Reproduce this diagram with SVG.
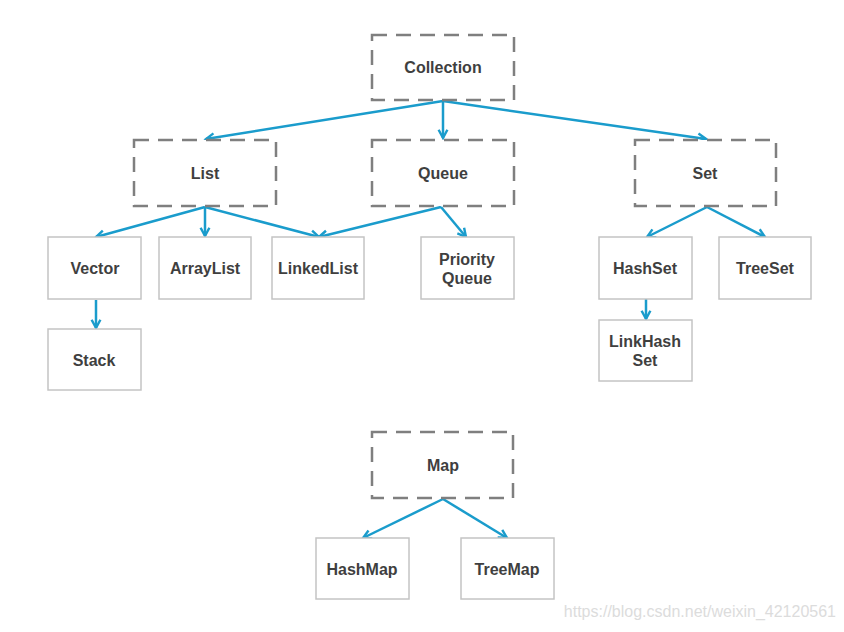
<svg xmlns="http://www.w3.org/2000/svg" width="844" height="632" viewBox="0 0 844 632">
<style>
.dash{fill:#fff;stroke:#7f7f7f;stroke-width:2.5;stroke-dasharray:15 9}
.box{fill:#fff;stroke:#c4c4c4;stroke-width:1.5}
.t{font-family:"Liberation Sans",Arial,sans-serif;font-weight:bold;font-size:16px;fill:#3f3f3f;text-anchor:middle}
.c{fill:none;stroke:#1a9ccc;stroke-width:2.5}
.wm{font-family:"Liberation Sans",Arial,sans-serif;font-size:16px;fill:#dcdcdc}
</style>
<defs>
<marker id="a" viewBox="0 0 10 10" refX="9" refY="5" markerWidth="11" markerHeight="11" orient="auto" markerUnits="userSpaceOnUse" overflow="visible">
<path d="M1.5,1 L9,5 L1.5,9" fill="none" stroke="#1a9ccc" stroke-width="2.2"/>
</marker>
</defs>
<rect width="844" height="632" fill="#fff"/>
<g id="connectors">
<line class="c" x1="443" y1="101" x2="206" y2="139" marker-end="url(#a)"/>
<line class="c" x1="443" y1="101" x2="443" y2="138" marker-end="url(#a)"/>
<line class="c" x1="443" y1="101" x2="706" y2="139" marker-end="url(#a)"/>
<line class="c" x1="205" y1="207" x2="96" y2="237" marker-end="url(#a)"/>
<line class="c" x1="205" y1="207" x2="205" y2="236" marker-end="url(#a)"/>
<line class="c" x1="205" y1="207" x2="319" y2="237" marker-end="url(#a)"/>
<line class="c" x1="441" y1="207" x2="319" y2="237" marker-end="url(#a)"/>
<line class="c" x1="441" y1="207" x2="466" y2="237" marker-end="url(#a)"/>
<line class="c" x1="707" y1="207" x2="647" y2="237" marker-end="url(#a)"/>
<line class="c" x1="707" y1="207" x2="765" y2="237" marker-end="url(#a)"/>
<line class="c" x1="96" y1="300" x2="96" y2="328" marker-end="url(#a)"/>
<line class="c" x1="646" y1="299" x2="646" y2="319" marker-end="url(#a)"/>
<line class="c" x1="443" y1="499" x2="363" y2="538" marker-end="url(#a)"/>
<line class="c" x1="443" y1="499" x2="507" y2="538" marker-end="url(#a)"/>
</g>
<g id="Collection"><rect class="dash" x="372" y="35" width="142" height="65"/><text class="t" x="443" y="73">Collection</text></g>
<g id="List"><rect class="dash" x="134" y="140" width="142" height="66"/><text class="t" x="205" y="179">List</text></g>
<g id="Queue"><rect class="dash" x="372" y="140" width="142" height="66"/><text class="t" x="443" y="179">Queue</text></g>
<g id="Set"><rect class="dash" x="635" y="140" width="141" height="66"/><text class="t" x="705" y="179">Set</text></g>
<g id="Map"><rect class="dash" x="372" y="432" width="141" height="66"/><text class="t" x="443" y="471">Map</text></g>
<g id="Vector"><rect class="box" x="48" y="237" width="93" height="62"/><text class="t" x="95" y="274">Vector</text></g>
<g id="ArrayList"><rect class="box" x="159" y="237" width="92" height="62"/><text class="t" x="205" y="274">ArrayList</text></g>
<g id="LinkedList"><rect class="box" x="272" y="237" width="92" height="62"/><text class="t" x="318" y="274">LinkedList</text></g>
<g id="PriorityQueue"><rect class="box" x="421" y="237" width="93" height="62"/><text class="t" x="467" y="265">Priority</text><text class="t" x="467" y="284">Queue</text></g>
<g id="HashSet"><rect class="box" x="599" y="237" width="93" height="62"/><text class="t" x="645" y="274">HashSet</text></g>
<g id="TreeSet"><rect class="box" x="719" y="237" width="92" height="62"/><text class="t" x="765" y="274">TreeSet</text></g>
<g id="Stack"><rect class="box" x="48" y="329" width="93" height="61"/><text class="t" x="94" y="366">Stack</text></g>
<g id="LinkHashSet"><rect class="box" x="599" y="320" width="93" height="61"/><text class="t" x="645" y="347">LinkHash</text><text class="t" x="645" y="366">Set</text></g>
<g id="HashMap"><rect class="box" x="316" y="538" width="93" height="61"/><text class="t" x="362" y="575">HashMap</text></g>
<g id="TreeMap"><rect class="box" x="461" y="538" width="93" height="61"/><text class="t" x="507" y="575">TreeMap</text></g>
<text class="wm" x="836" y="617" text-anchor="end">https://blog.csdn.net/weixin_42120561</text>
</svg>
